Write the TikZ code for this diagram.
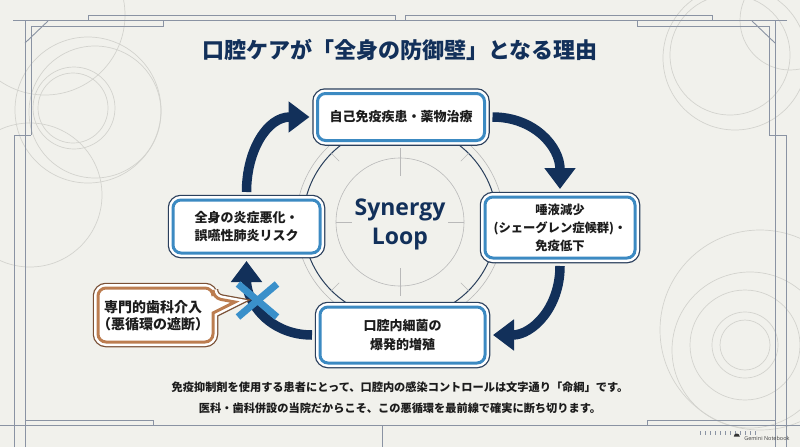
\documentclass[tikz,border=0pt]{standalone}
\usepackage{fontspec}
\usetikzlibrary{arrows.meta,calc}
\newfontfamily\jp{Noto Sans CJK JP}
\newfontfamily\lat{Open Sans}[BoldFont={* Bold}]
\definecolor{bgc}{HTML}{F1F1EC}
\definecolor{navy}{HTML}{12305A}
\definecolor{boxblue}{HTML}{3C8AC2}
\definecolor{rim}{HTML}{2A3F5C}
\definecolor{copper}{HTML}{BC7D50}
\definecolor{darkcopper}{HTML}{7A5035}
\definecolor{xblue}{HTML}{3A90CA}
\definecolor{deco}{HTML}{D3D3CE}
\definecolor{frameline}{HTML}{8A93A3}
\definecolor{ink}{HTML}{1C1C1C}
\tikzset{
  card/.style={rounded corners=8pt, fill=white, draw=boxblue, line width=3pt,
    outer sep=5pt, align=center, inner sep=0pt, text=ink,
    font=\jp\bfseries\fontsize{13}{18.5}\selectfont,
    preaction={draw=rim, line width=10.5pt},
    preaction={draw=white, line width=8pt}},
  cyc/.style={draw=navy, line width=9.5pt, shorten <=3pt, shorten >=3pt,
    -{Triangle[width=30pt,length=21pt]}},
  decoc/.style={draw=deco, line width=0.7pt},
  fr/.style={draw=frameline, line width=0.9pt},
  hub/.style={draw=gray!55, line width=0.6pt},
}
\begin{document}
\begin{tikzpicture}[x=1pt,y=-1pt]
\useasboundingbox (0,0) rectangle (800,447);
\fill[bgc] (0,0) rectangle (800,447);
% background circles
\draw[decoc] (73,108) circle (35);
\draw[decoc] (74,108) circle (41);
\draw[decoc] (88,110) circle (73);
\draw[decoc] (95,112) circle (66);
\draw[decoc] (45,15) circle (80);
\draw[decoc] (30,195) circle (72);
\draw[decoc] (730,55) circle (60);
\draw[decoc] (735,58) circle (72);
\draw[decoc] (790,20) circle (50);
\draw[decoc] (745,345) circle (25);
\draw[decoc] (745,345) circle (33);
\draw[decoc] (745,345) circle (55);
\draw[decoc] (750,350) circle (78);
\draw[decoc] (760,330) circle (100);
% frame
\draw[fr] (25,447) -- (25,20) -- (775,20) -- (775,447);
\draw[fr] (0,425) -- (800,425);
\draw[fr] (31,135) -- (31,26) -- (163,26) -- (163,20);
\draw[fr] (14,447) -- (14,135) -- (31,135);
\draw[fr] (13,20) -- (25,20);
\draw[fr] (88,20) -- (88,15) -- (395,15) -- (395,20);
\draw[fr] (25,43) -- (48,21);
\draw[fr] (769,135) -- (769,26) -- (637,26) -- (637,20);
\draw[fr] (786,447) -- (786,135) -- (769,135);
\draw[fr] (787,20) -- (775,20);
\draw[fr] (712,20) -- (712,15) -- (405,15) -- (405,20);
\draw[fr] (775,43) -- (752,21);
\draw[fr] (25,420) -- (153,420) -- (153,425);
\draw[fr] (775,420) -- (647,420) -- (647,425);
\draw[fr] (382,425) -- (382,447);
\foreach \i in {0,...,11} \draw[frameline, line width=0.5pt] (700+\i*5,431) -- ++(0,4);
\node[font=\lat\fontsize{5.5}{6}\selectfont, text=black!75, anchor=east] (gem) at (793,438) {Gemini Notebook};
\fill[black!80] ([xshift=-7pt,yshift=1.5pt]gem.west) arc (180:0:3pt) -- cycle;
% hub
\draw[hub] (400,222) circle (64);
\draw[draw=rim, line width=1pt] (400,222) circle (97);
\draw[hub] (400,222) circle (104);
\draw[hub] (400,148) -- (400,176);
\draw[hub] (400,268) -- (400,296);
\draw[hub] (336,222) -- (352,222);
\draw[hub] (448,222) -- (464,222);
\foreach \a in {45,135,225,315} \draw[hub] ($(400,222)+(\a:86)$) -- ($(400,222)+(\a:97)$);
% title
\node[font=\jp\bfseries\fontsize{22}{26}\selectfont, text=navy] (title) at (400,50) {口腔ケアが「全身の防御壁」となる理由};
% cards
\node[card, minimum width=167pt, minimum height=47pt] (top) at (401,117) {自己免疫疾患・薬物治療};
\node[card, minimum width=150pt, minimum height=61pt, font=\jp\bfseries\fontsize{12.3}{18}\selectfont] (right) at (560,227.5) {唾液減少\\(シェーグレン症候群)・\\免疫低下};
\node[card, minimum width=165pt, minimum height=56pt] (bottom) at (402.5,335) {口腔内細菌の\\爆発的増殖};
\node[card, minimum width=147pt, minimum height=53pt] (left) at (246.5,226.5) {全身の炎症悪化・\\誤嚥性肺炎リスク};
% center text
\node[font=\lat\bfseries\fontsize{23}{29}\selectfont, text=navy, align=center] (loop) at (400,224) {Synergy\\Loop};
% cycle arrows
\draw[cyc] (top.east) .. controls +(45,0) and +(0,-45) .. (right.north);
\draw[cyc] (right.south) .. controls +(0,45) and +(42,0) .. (bottom.east);
\draw[cyc] (bottom.west) .. controls +(-45,0) and +(0,45) .. (left.south);
\draw[cyc] (left.north) .. controls +(0,-45) and +(-45,0) .. (top.west);
% X mark
\draw[xblue, line width=7pt] (238,284) -- (277,317);
\draw[xblue, line width=7pt] (238,317) -- (277,284);
% callout
\draw[rounded corners=8pt, fill=white, draw=copper, line width=3pt,
      preaction={draw=darkcopper, line width=10.5pt},
      preaction={draw=white, line width=8pt}]
  (98,288) -- (213,288) -- (213,298) [sharp corners] -- (235,302) -- (213,313) [rounded corners=8pt] -- (213,342) -- (98,342) -- cycle;
\node[font=\jp\bfseries\fontsize{14}{17}\selectfont, text=ink, align=center] (callout) at (153,316) {専門的歯科介入\\（悪循環の遮断）};
% bottom text
\node[font=\jp\bfseries\fontsize{11.2}{21}\selectfont, text=ink, align=center] (note) at (400,398) {免疫抑制剤を使用する患者にとって、口腔内の感染コントロールは文字通り「命綱」です。\\医科・歯科併設の当院だからこそ、この悪循環を最前線で確実に断ち切ります。};
\end{tikzpicture}
\end{document}
